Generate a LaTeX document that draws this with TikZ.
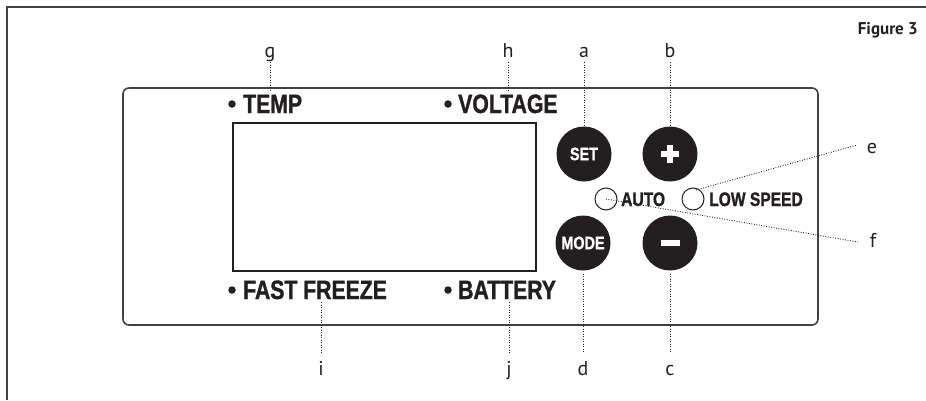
\documentclass[tikz,border=0pt]{standalone}
\usepackage{fontspec}
\newfontfamily\panelfont[FakeStretch=0.8, BoldFeatures={FakeBold=1.2}]{Liberation Sans}
\newfontfamily\labelfont{PT Sans}
\definecolor{ink}{RGB}{35,31,32}
\begin{document}
\begin{tikzpicture}[x=1pt,y=-1pt,
  lead/.style={line width=0.9pt, dash pattern=on 0.9pt off 1.6pt, draw=ink},
  btn/.style={circle, fill=ink, minimum size=55pt, inner sep=0pt, text=white,
    font=\panelfont\bfseries\fontsize{18}{20}\selectfont},
  lbl/.style={font=\labelfont\fontsize{20}{22}\selectfont, inner sep=0pt, text=ink},
  bigtxt/.style={font=\panelfont\bfseries\fontsize{26.5}{30}\selectfont, inner sep=0pt, text=ink, anchor=base west},
  smalltxt/.style={font=\panelfont\bfseries\fontsize{19.5}{22}\selectfont, inner sep=0pt, text=ink, anchor=base west},
  ring/.style={circle, draw=ink, line width=1pt, minimum size=22pt, inner sep=0pt},
  bullet/.style={circle, fill=ink, minimum size=7.5pt, inner sep=0pt},
  frame/.style={draw=ink!85, line width=1.3pt}
]
\useasboundingbox (0,0) rectangle (926,400);
% outer frame (top and left edges)
\draw[frame] (7,400) -- (7,7) -- (926,7);
% panel
\draw[frame, line width=1.6pt, rounded corners=6pt] (123,88) rectangle (818,325);
% display
\draw[draw=ink, line width=1.2pt] (233,123) rectangle (536,271);
% indicator texts
\node[bullet] (b1) at (232,104) {};
\node[bigtxt] (temp) at (243,113) {TEMP};
\node[bullet] (b2) at (448,104) {};
\node[bigtxt] (volt) at (458,113) {VOLTAGE};
\node[bullet] (b3) at (232,290) {};
\node[bigtxt] (fast) at (243,299) {FAST FREEZE};
\node[bullet] (b4) at (448,290) {};
\node[bigtxt] (batt) at (458,299) {BATTERY};
% buttons
\node[btn] (set) at (584,154) {SET};
\node[btn] (plus) at (670,154) {};
\node[btn] (mode) at (583,243) {MODE};
\node[btn] (minus) at (670,243) {};
\fill[white] ([xshift=-9pt,yshift=-2.8pt]plus.center) rectangle ([xshift=9pt,yshift=2.8pt]plus.center);
\fill[white] ([xshift=-2.8pt,yshift=-9pt]plus.center) rectangle ([xshift=2.8pt,yshift=9pt]plus.center);
\fill[white] ([xshift=-9.5pt,yshift=-3pt]minus.center) rectangle ([xshift=9.5pt,yshift=3pt]minus.center);
% mode lamps
\node[ring] (autor) at (606,199) {};
\node[smalltxt] (auto) at (621,206) {AUTO};
\node[ring] (lowr) at (693,199) {};
\node[smalltxt] (low) at (709,206) {LOW SPEED};
% figure title
\node[font=\labelfont\bfseries\fontsize{17}{20}\selectfont, inner sep=0pt, text=ink, anchor=base east] (fig) at (918,34) {Figure 3};
% letter labels
\node[lbl, anchor=base] (lg) at (270,57) {g};
\node[lbl, anchor=base] (lh) at (508,57) {h};
\node[lbl, anchor=base] (la) at (584,57) {a};
\node[lbl, anchor=base] (lb) at (670,57) {b};
\node[lbl, anchor=base] (li) at (321,375) {i};
\node[lbl, anchor=base] (lj) at (509,375) {j};
\node[lbl, anchor=base] (ld) at (583,375) {d};
\node[lbl, anchor=base] (lc) at (670,375) {c};
\node[lbl, anchor=base] (le) at (872,153) {e};
\node[lbl, anchor=base] (lf) at (873,247) {f};
% connector end points
\coordinate (tg) at (270,92);
\coordinate (th) at (508,92);
\coordinate (ti) at (321,302);
\coordinate (tj) at (509,302);
\coordinate (te) at (696,190);
\coordinate (ee) at (857,145);
\coordinate (ef) at (858,242);
% leaders
\draw[lead] ([yshift=-5pt]lg.base) -- (tg);
\draw[lead] ([yshift=-5pt]lh.base) -- (th);
\draw[lead] ([yshift=-5pt]la.base) -- (set.north);
\draw[lead] ([yshift=-5pt]lb.base) -- (plus.north);
\draw[lead] (ti) -- ([yshift=22pt]li.base);
\draw[lead] (tj) -- ([yshift=22pt]lj.base);
\draw[lead] ([yshift=-3pt]mode.south) -- ([yshift=22pt]ld.base);
\draw[lead] ([yshift=-3pt]minus.south) -- ([yshift=22pt]lc.base);
\draw[lead] (te) -- (ee);
\draw[lead] (autor.center) -- (ef);
\end{tikzpicture}
\end{document}
